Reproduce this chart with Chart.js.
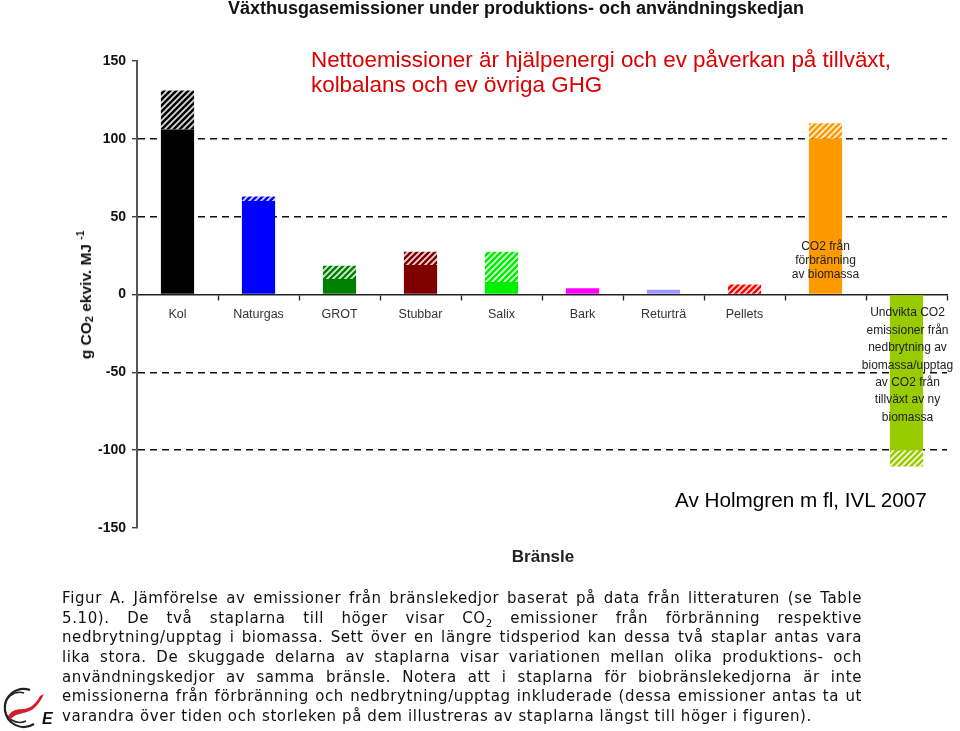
<!DOCTYPE html>
<html>
<head>
<meta charset="utf-8">
<script src="https://cdn.jsdelivr.net/npm/chart.js@4.4.1/dist/chart.umd.min.js"></script>
<style>
body { margin:0; width:960px; height:731px; overflow:hidden; background:#fff; position:relative;
       font-family:"Liberation Sans", Arial, sans-serif; }
#c { position:absolute; left:0; top:0; }
.txt { position:absolute; white-space:nowrap; }
#topTitle { left:516px; top:-2px; transform:translateX(-50%); font-weight:bold; font-size:18px; color:#111; }
#redTitle { left:311px; top:47px; font-size:22.4px; line-height:25px; color:#dd0000; }
#credit { left:675px; top:488px; font-size:20.7px; color:#000; }
#xTitle { left:543px; top:547px; transform:translateX(-50%); font-weight:bold; font-size:17px; color:#222; }
#yTitle { left:85px; top:295px; transform:translate(-50%,-50%) rotate(-90deg); font-weight:bold; font-size:15.5px; color:#111; }
#yTitle sub { font-size:11px; vertical-align:-2px; }
#yTitle sup { font-size:10px; vertical-align:7px; }
#caption { position:absolute; left:62px; top:589px; width:800px;
           font-family:"DejaVu Sans", sans-serif; font-size:15px; letter-spacing:0.6px; color:#111; }
#caption div { text-align:justify; text-align-last:justify; height:19.7px; line-height:19.7px; white-space:nowrap; }
#caption div.last { text-align-last:left; }
#caption sub { font-size:10px; line-height:0; }
#logo { position:absolute; left:0; top:684px; }
</style>
</head>
<body>
<canvas id="c" width="960" height="731"></canvas>

<div class="txt" id="topTitle">Växthusgasemissioner under produktions- och användningskedjan</div>
<div class="txt" id="redTitle">Nettoemissioner är hjälpenergi och ev påverkan på tillväxt,<br>kolbalans och ev övriga GHG</div>
<div class="txt" id="credit">Av Holmgren m fl, IVL 2007</div>
<div class="txt" id="xTitle">Bränsle</div>
<div class="txt" id="yTitle">g CO<sub>2</sub> ekviv. MJ <sup>-1</sup></div>

<div id="caption">
<div>Figur A. Jämförelse av emissioner från bränslekedjor baserat på data från litteraturen (se Table</div>
<div>5.10). De två staplarna till höger visar CO<sub>2</sub> emissioner från förbränning respektive</div>
<div>nedbrytning/upptag i biomassa. Sett över en längre tidsperiod kan dessa två staplar antas vara</div>
<div>lika stora. De skuggade delarna av staplarna visar variationen mellan olika produktions- och</div>
<div>användningskedjor av samma bränsle. Notera att i staplarna för biobränslekedjorna är inte</div>
<div>emissionerna från förbränning och nedbrytning/upptag inkluderade (dessa emissioner antas ta ut</div>
<div class="last">varandra över tiden och storleken på dem illustreras av staplarna längst till höger i figuren).</div>
</div>

<svg id="logo" width="60" height="47" viewBox="0 0 60 47">
  <path d="M30 6 A19 19 0 1 0 34 40" fill="none" stroke="#222" stroke-width="2.2"/>
  <path d="M24 9 A15 15 0 1 0 26 37" fill="none" stroke="#222" stroke-width="1.6"/>
  <path d="M8 32 C18 18, 28 34, 40 12 L44 10 C32 36, 20 24, 10 36 Z" fill="#d0202a"/>
  <text x="42" y="40" font-family="Liberation Sans, Arial" font-style="italic" font-weight="bold" font-size="16" fill="#111">E</text>
</svg>

<script>
// Bränslekedjor
const categories = ['Kol', 'Naturgas', 'GROT', 'Stubbar', 'Salix', 'Bark', 'Returträ', 'Pellets', '', ''];

// solid part and hatched (variation) part, g CO2 ekviv. / MJ
const baseValues  = [106, 60, 10, 19, 8, 4, 3, 0, 100, -100];
const rangeValues = [25, 3, 8.5, 8.5, 19.5, 0, 0, 6.5, 10, -10.5];

const barColors = ['#000000', '#0000ff', '#008000', '#800000', '#00ee00',
                   '#ff00ff', '#9999ff', '#ff0000', '#ff9900', '#99cc00'];

const yTicks = [-150, -100, -50, 0, 50, 100, 150];
const dashedAt = [-100, -50, 50, 100];

// annotations on the two right bars
const noteCombustion = ['CO2 från', 'förbränning', 'av biomassa'];
const noteUptake = ['Undvikta CO2', 'emissioner från', 'nedbrytning av', 'biomassa/upptag',
                    'av CO2 från', 'tillväxt av ny', 'biomassa'];

var canvas = document.getElementById('c');
var ctx = canvas.getContext('2d');

function hatch(color) {
  var p = document.createElement('canvas');
  p.width = 6; p.height = 6;
  var g = p.getContext('2d');
  g.fillStyle = color;
  g.fillRect(0, 0, 6, 6);
  g.strokeStyle = 'rgba(255,255,255,0.85)';
  g.lineWidth = 1.8;
  g.beginPath();
  g.moveTo(0, 6); g.lineTo(6, 0);
  g.moveTo(-1, 1); g.lineTo(1, -1);
  g.moveTo(5, 7); g.lineTo(7, 5);
  g.stroke();
  return ctx.createPattern(p, 'repeat');
}

var notesPlugin = {
  id: 'notes',
  afterDatasetsDraw(chart) {
    var x = chart.scales.x, y = chart.scales.y, c = chart.ctx;
    c.save();
    c.font = '12px "Liberation Sans", Arial, sans-serif';
    c.fillStyle = '#222';
    c.textAlign = 'center';
    c.textBaseline = 'middle';
    var y0 = y.getPixelForValue(31);
    noteCombustion.forEach(function (s, i) { c.fillText(s, x.getPixelForValue(8), y0 + i * 14); });
    var y1 = y.getPixelForValue(-12);
    noteUptake.forEach(function (s, i) { c.fillText(s, x.getPixelForValue(9) + 1, y1 + i * 17.4); });
    c.restore();
  }
};

new Chart(ctx, {
  type: 'bar',
  data: {
    labels: categories,
    datasets: [
      { label: 'bas', data: baseValues, backgroundColor: barColors, borderWidth: 0 },
      { label: 'variation', data: rangeValues, backgroundColor: barColors.map(hatch), borderWidth: 0 }
    ]
  },
  options: {
    responsive: false,
    animation: false,
    devicePixelRatio: 1,
    layout: { padding: { left: 0, right: 13, top: 61, bottom: 203 } },
    categoryPercentage: 1,
    barPercentage: 0.41,
    plugins: { legend: { display: false }, tooltip: { enabled: false } },
    scales: {
      x: {
        stacked: true,
        position: { y: 0 },
        offset: true,
        afterFit: function (s) { s.height = 0; },
        grid: { offset: true, drawOnChartArea: false, tickLength: 5, tickColor: '#222', tickWidth: 1.3 },
        border: { color: '#222', width: 1.5 },
        ticks: { color: '#333', padding: 8, font: { family: '"Liberation Sans", Arial', size: 12.5 } }
      },
      y: {
        stacked: true,
        min: -150, max: 150,
        afterBuildTicks: function (s) { s.ticks = yTicks.map(function (v) { return { value: v }; }); },
        afterFit: function (s) { s.width = 137; },
        grid: {
          color: function (c) { return dashedAt.includes(c.tick && c.tick.value) ? '#111' : 'rgba(0,0,0,0)'; },
          lineWidth: 1.4,
          tickColor: '#333', tickLength: 5, tickWidth: 1.3
        },
        border: { color: '#555', width: 2, dash: [7, 5] },
        ticks: { color: '#111', padding: 6, font: { family: '"Liberation Sans", Arial', size: 14, weight: 'bold' } }
      }
    }
  },
  plugins: [notesPlugin]
});
</script>
</body>
</html>
